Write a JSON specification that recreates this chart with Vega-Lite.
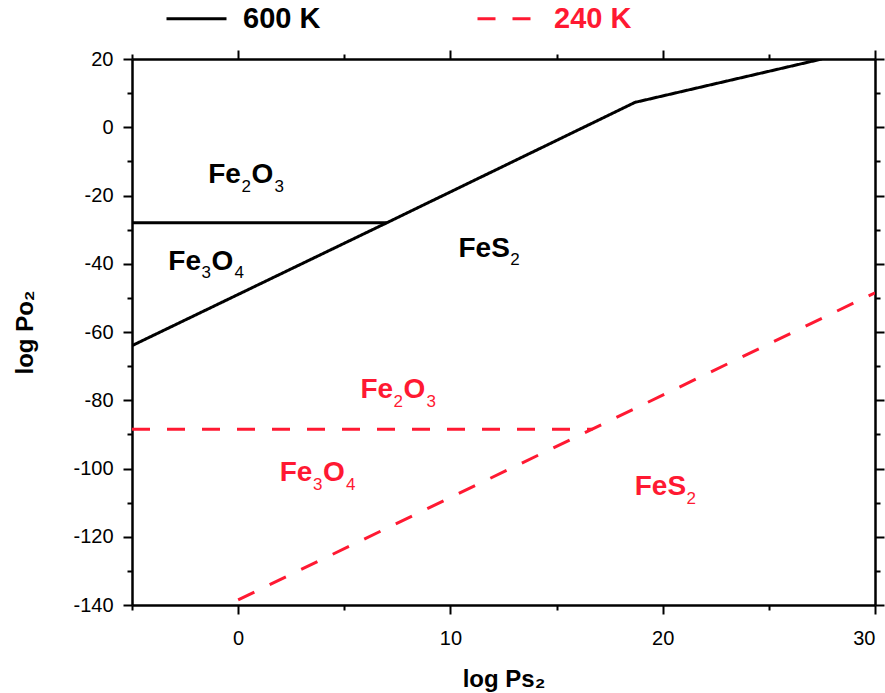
{
  "$schema": "https://vega.github.io/schema/vega-lite/v6.json",
  "width": 743,
  "height": 546,
  "autosize": {"type": "none"},
  "padding": {"left": 132, "top": 59, "right": 10, "bottom": 88},
  "background": "white",
  "config": {
    "view": {"stroke": null},
    "font": "Liberation Sans",
    "axis": {
      "domainColor": "black",
      "domainWidth": 2.5,
      "tickColor": "black",
      "tickWidth": 2,
      "labelFont": "Liberation Sans",
      "labelFontSize": 20,
      "labelColor": "black",
      "titleFont": "Liberation Sans",
      "titleFontSize": 24,
      "titleFontWeight": "bold",
      "titleColor": "black",
      "grid": false
    }
  },
  "datasets": {
    "lines": [
      {"T": "600 K", "seg": "a", "logPs2": -5, "logPo2": -28},
      {"T": "600 K", "seg": "a", "logPs2": 7, "logPo2": -28},
      {"T": "600 K", "seg": "b", "logPs2": -5, "logPo2": -64},
      {"T": "600 K", "seg": "b", "logPs2": 7, "logPo2": -28},
      {"T": "600 K", "seg": "b", "logPs2": 18.7, "logPo2": 7.3},
      {"T": "600 K", "seg": "b", "logPs2": 27.5, "logPo2": 20},
      {"T": "240 K", "seg": "c", "logPs2": -5, "logPo2": -88.5},
      {"T": "240 K", "seg": "c", "logPs2": 16.7, "logPo2": -88.5},
      {"T": "240 K", "seg": "d", "logPs2": 0, "logPo2": -138.5},
      {"T": "240 K", "seg": "d", "logPs2": 30, "logPo2": -48.5}
    ],
    "labels": [
      {"T": "600 K", "p1": "Fe", "s1": "2", "p2": "O", "s2": "3", "logPs2": 0.13, "logPo2": -16.4},
      {"T": "600 K", "p1": "Fe", "s1": "3", "p2": "O", "s2": "4", "logPs2": -1.75, "logPo2": -41.8},
      {"T": "600 K", "p1": "FeS", "s1": "2", "p2": "", "s2": "", "logPs2": 12.8, "logPo2": -37.9},
      {"T": "240 K", "p1": "Fe", "s1": "2", "p2": "O", "s2": "3", "logPs2": 7.3, "logPo2": -79.4},
      {"T": "240 K", "p1": "Fe", "s1": "3", "p2": "O", "s2": "4", "logPs2": 3.5, "logPo2": -103.7},
      {"T": "240 K", "p1": "FeS", "s1": "2", "p2": "", "s2": "", "logPs2": 21.1, "logPo2": -107.8}
    ]
  },
  "layer": [
    {
      "data": {"name": "lines"},
      "mark": {"type": "line", "strokeWidth": 3, "clip": true},
      "encoding": {
        "x": {
          "field": "logPs2", "type": "quantitative",
          "scale": {"domain": [-5, 30], "nice": false, "zero": false},
          "axis": {
            "orient": "bottom", "title": "log Ps₂",
            "values": [-5, 0, 5, 10, 15, 20, 25, 30],
            "tickSize": {"condition": {"test": "datum.value % 10 === 0", "value": 9}, "value": 5},
            "labelExpr": "datum.value % 10 === 0 ? '' + datum.value : ''",
            "labelPadding": 14, "titlePadding": 19
          }
        },
        "y": {
          "field": "logPo2", "type": "quantitative",
          "scale": {"domain": [-140, 20], "nice": false, "zero": false},
          "axis": {
            "orient": "left", "title": "log Po₂",
            "values": [-140, -130, -120, -110, -100, -90, -80, -70, -60, -50, -40, -30, -20, -10, 0, 10, 20],
            "tickSize": {"condition": {"test": "datum.value % 20 === 0", "value": 9}, "value": 5},
            "labelExpr": "datum.value % 20 === 0 ? '' + datum.value : ''",
            "labelPadding": 10, "titlePadding": 35
          }
        },
        "color": {
          "field": "T", "type": "nominal",
          "scale": {"domain": ["600 K", "240 K"], "range": ["black", "#ff1932"]},
          "legend": {
            "title": null, "orient": "none", "legendX": 33, "legendY": -72,
            "direction": "horizontal", "symbolType": "stroke", "symbolSize": 3600,
            "symbolStrokeWidth": 3, "labelFont": "Liberation Sans", "labelFontSize": 29,
            "labelFontWeight": "bold", "labelOffset": 15, "columnPadding": 150, "labelLimit": 300,
            "encode": {"labels": {"update": {"fill": {"signal": "datum.label === '240 K' ? '#ff1932' : 'black'"}}}}
          }
        },
        "strokeDash": {
          "field": "T", "type": "nominal",
          "scale": {"domain": ["600 K", "240 K"], "range": [[1, 0], [18, 17]]},
          "legend": {
            "title": null, "orient": "none", "legendX": 33, "legendY": -72,
            "direction": "horizontal", "symbolType": "stroke", "symbolSize": 3600,
            "symbolStrokeWidth": 3, "labelFont": "Liberation Sans", "labelFontSize": 29,
            "labelFontWeight": "bold", "labelOffset": 15, "columnPadding": 150, "labelLimit": 300,
            "encode": {"labels": {"update": {"fill": {"signal": "datum.label === '240 K' ? '#ff1932' : 'black'"}}}}
          }
        },
        "detail": {"field": "seg", "type": "nominal"}
      }
    },
    {
      "data": {"name": "labels"},
      "mark": {"type": "text", "font": "Liberation Sans", "fontSize": 28, "fontWeight": "bold", "align": "right", "baseline": "alphabetic"},
      "encoding": {
        "x": {
          "field": "logPs2", "type": "quantitative",
          "axis": {
            "orient": "top", "title": null, "labels": false,
            "values": [-5, 0, 5, 10, 15, 20, 25, 30],
            "tickSize": {"condition": {"test": "datum.value % 10 === 0", "value": 9}, "value": 5}
          }
        },
        "y": {
          "field": "logPo2", "type": "quantitative",
          "axis": {
            "orient": "right", "title": null, "labels": false,
            "values": [-140, -130, -120, -110, -100, -90, -80, -70, -60, -50, -40, -30, -20, -10, 0, 10, 20],
            "tickSize": {"condition": {"test": "datum.value % 20 === 0", "value": 9}, "value": 5}
          }
        },
        "color": {"field": "T", "type": "nominal", "legend": null},
        "text": {"field": "p1", "type": "nominal"}
      }
    },
    {
      "data": {"name": "labels"},
      "mark": {"type": "text", "font": "Liberation Sans", "fontSize": 17, "fontWeight": "normal", "align": "left", "baseline": "alphabetic", "dx": 0.5, "dy": 8.5},
      "encoding": {
        "x": {"field": "logPs2", "type": "quantitative", "axis": null},
        "y": {"field": "logPo2", "type": "quantitative", "axis": null},
        "color": {"field": "T", "type": "nominal", "legend": null},
        "text": {"field": "s1", "type": "nominal"}
      }
    },
    {
      "data": {"name": "labels"},
      "mark": {"type": "text", "font": "Liberation Sans", "fontSize": 28, "fontWeight": "bold", "align": "left", "baseline": "alphabetic", "dx": 10.5},
      "encoding": {
        "x": {"field": "logPs2", "type": "quantitative", "axis": null},
        "y": {"field": "logPo2", "type": "quantitative", "axis": null},
        "color": {"field": "T", "type": "nominal", "legend": null},
        "text": {"field": "p2", "type": "nominal"}
      }
    },
    {
      "data": {"name": "labels"},
      "mark": {"type": "text", "font": "Liberation Sans", "fontSize": 17, "fontWeight": "normal", "align": "left", "baseline": "alphabetic", "dx": 33.5, "dy": 8.5},
      "encoding": {
        "x": {"field": "logPs2", "type": "quantitative", "axis": null},
        "y": {"field": "logPo2", "type": "quantitative", "axis": null},
        "color": {"field": "T", "type": "nominal", "legend": null},
        "text": {"field": "s2", "type": "nominal"}
      }
    }
  ],
  "resolve": {"axis": {"x": "independent", "y": "independent"}}
}
